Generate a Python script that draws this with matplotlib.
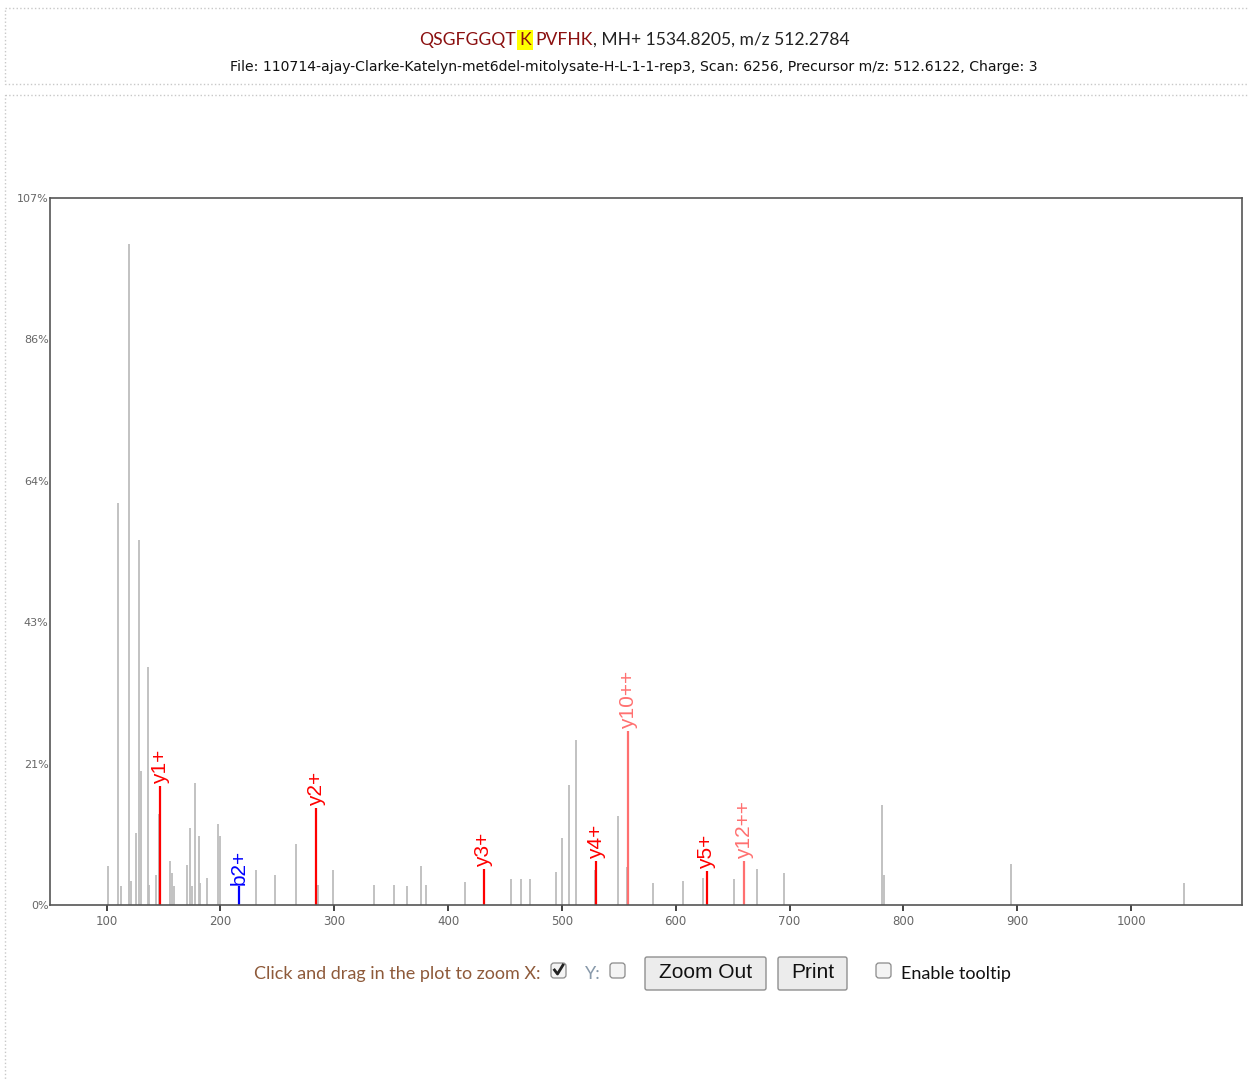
import matplotlib
matplotlib.use("Agg")
import matplotlib.pyplot as plt
from matplotlib.patches import Rectangle, FancyBboxPatch

# peaks without annotation (m/z, relative intensity %)
peak_mz = [101.6, 109.9, 112.8, 120.1, 121.2, 125.9, 128.5, 130.0, 136.0, 137.2,
           143.3, 145.9, 156.1, 157.6, 159.0, 170.6, 173.5, 175.0, 177.9, 180.8,
           182.3, 188.1, 198.3, 199.7, 231.6, 248.0, 266.5, 285.7, 298.8, 335.3,
           352.8, 364.2, 375.9, 380.6, 415.0, 455.6, 464.4, 471.7, 494.6, 500.4,
           506.2, 512.1, 529.2, 549.7, 557.0, 580.1, 606.4, 623.7, 651.2, 671.6,
           695.3, 781.3, 782.7, 894.4, 1046.8]
peak_int = [5.9, 60.8, 2.8, 100.0, 3.6, 10.9, 55.2, 20.3, 36.0, 3.1,
            4.6, 13.7, 6.6, 4.8, 2.8, 6.1, 11.7, 2.8, 18.5, 10.4,
            3.3, 4.1, 12.3, 10.5, 5.3, 4.5, 9.2, 3.0, 5.3, 3.0,
            3.0, 2.8, 5.9, 3.0, 3.5, 4.0, 3.9, 3.9, 5.0, 10.1,
            18.1, 25.0, 5.3, 13.4, 5.7, 3.4, 3.6, 4.1, 4.0, 5.4,
            4.8, 15.1, 4.6, 6.2, 3.4]

# matched fragment ions
ion_labels = ["y1+", "b2+", "y2+", "y3+", "y4+", "y10++", "y5+", "y12++"]
ion_mz = [147.1, 216.1, 284.2, 431.2, 530.3, 558.3, 627.4, 660.4]
ion_int = [18.0, 2.8, 14.7, 5.5, 6.7, 26.3, 5.1, 6.7]

y_max = 107.0
y_ticks = [0, 21.4, 42.8, 64.2, 85.6, 107.0]
y_tick_labels = ["0%", "21%", "43%", "64%", "86%", "107%"]
x_ticks = [100, 200, 300, 400, 500, 600, 700, 800, 900, 1000]

seq_before = "QSGFGGQT"
seq_mod = "K"
seq_after = "PVFHK"
title_rest = ", MH+ 1534.8205, m/z 512.2784"
subtitle = ("File: 110714-ajay-Clarke-Katelyn-met6del-mitolysate-H-L-1-1-rep3, "
            "Scan: 6256, Precursor m/z: 512.6122, Charge: 3")


def ion_colour(label):
    if label.startswith("b"):
        return "#0000ff"
    if label.endswith("++"):
        return "#ff7070"
    return "#ff0000"


W, H = 1249, 1081
fig = plt.figure(figsize=(W / 100, H / 100), dpi=100)

# page-like background in pixel coordinates
bg = fig.add_axes([0, 0, 1, 1])
bg.set_xlim(0, W)
bg.set_ylim(H, 0)
bg.axis("off")

bg.add_patch(Rectangle((5, 8), W + 20, 76, fill=False, ec="#c8c8c8", lw=1, ls=":"))
bg.add_patch(Rectangle((5, 95), W + 20, H, fill=False, ec="#c8c8c8", lw=1, ls=":"))

renderer = fig.canvas.get_renderer()


def draw_pieces(pieces, cx, y, target_w, family, size0):
    # pieces: (text, colour, background, gap after)
    texts = []
    for s, col, bgc, gap in pieces:
        t = bg.text(0, y, s, color=col, va="center", ha="left",
                    family=family, fontsize=size0)
        texts.append((t, bgc, gap))
    total = sum(t.get_window_extent(renderer).width + g for t, _, g in texts)
    size = size0 * target_w / total
    for t, _, _ in texts:
        t.set_fontsize(size)
    widths = [t.get_window_extent(renderer).width for t, _, _ in texts]
    total = sum(widths) + sum(g for _, _, g in texts)
    x = cx - total / 2
    for (t, bgc, g), w in zip(texts, widths):
        t.set_x(x)
        if bgc:
            t.set_bbox(dict(facecolor=bgc, edgecolor="none", pad=1.5))
        x += w + g


maroon = "#8b1010"
draw_pieces([(seq_before, maroon, None, 4),
             (seq_mod, maroon, "#ffff00", 4),
             (seq_after, maroon, None, 0),
             (title_rest, "#222222", None, 0)],
            634, 40, 428, ["Liberation Sans Narrow", "Lato"], 13)
draw_pieces([(subtitle, "#111111", None, 0)], 634, 67, 809, "DejaVu Sans", 8)

# controls under the plot
ctl_y = 974
bg.text(541, ctl_y, "Click and drag in the plot to zoom X:", color="#8e5a3a",
        ha="right", va="center", family="Lato", fontsize=13)


def checkbox(x, checked):
    bg.add_patch(FancyBboxPatch((x, ctl_y - 11), 15, 15,
                                boxstyle="round,pad=0,rounding_size=3",
                                fc="#f4f4f4", ec="#8a8a8a", lw=0.9))
    if checked:
        bg.plot([x + 3.5, x + 6.5, x + 12], [ctl_y - 4, ctl_y, ctl_y - 9],
                color="#222222", lw=2)


def button(x0, x1, label):
    bg.add_patch(FancyBboxPatch((x0, 957), x1 - x0, 33,
                                boxstyle="round,pad=0,rounding_size=2",
                                fc="#ececec", ec="#8f8f8f", lw=1))
    bg.text((x0 + x1) / 2, ctl_y - 1, label, ha="center", va="center",
            color="#111111", family="Liberation Sans", fontsize=15)


checkbox(551, True)
bg.text(585, ctl_y, "Y:", color="#8899aa", ha="left", va="center",
        family="Lato", fontsize=13)
checkbox(610, False)
button(645, 766, "Zoom Out")
button(778, 847, "Print")
checkbox(876, False)
bg.text(901, ctl_y, "Enable tooltip", color="#111111", ha="left", va="center",
        family="Lato", fontsize=13)

# spectrum
ax = fig.add_axes([50 / W, (H - 905) / H, (1242 - 50) / W, (905 - 198) / H])
ax.vlines(peak_mz, 0, peak_int, colors="#bdbdbd", lw=1.3)
for lab, mz, inten in zip(ion_labels, ion_mz, ion_int):
    c = ion_colour(lab)
    ax.vlines(mz, 0, inten, colors=c, lw=1.6)
    ax.text(mz, inten + 0.3, lab, rotation=90, ha="center", va="bottom",
            color=c, family="Liberation Sans", fontsize=15)

ax.set_xlim(50.3, 1097.5)
ax.set_ylim(0, y_max)
ax.set_xticks(x_ticks)
ax.set_xticklabels([str(v) for v in x_ticks])
ax.set_yticks(y_ticks)
ax.set_yticklabels(y_tick_labels)
for s in ax.spines.values():
    s.set_color("#555555")
    s.set_linewidth(1.2)
ax.tick_params(axis="x", direction="out", length=4, width=1.2, color="#222222",
               labelsize=8.5, labelcolor="#666666", pad=3)
ax.tick_params(axis="y", length=0, labelsize=8, labelcolor="#666666", pad=1)
for t in ax.get_xticklabels() + ax.get_yticklabels():
    t.set_family("DejaVu Sans")

fig.savefig("out.png", dpi=100)
